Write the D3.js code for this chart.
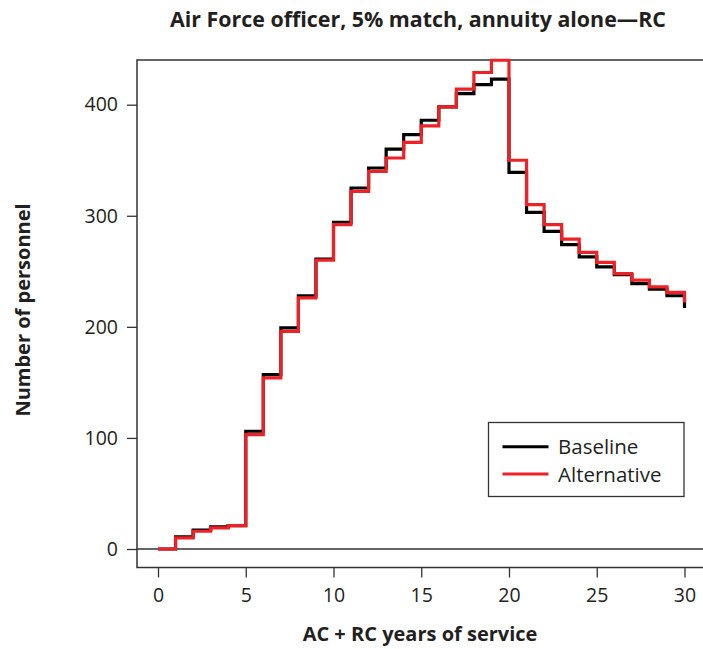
<!DOCTYPE html>
<html>
<head>
<meta charset="utf-8">
<script src="https://cdn.jsdelivr.net/npm/d3@7"></script>
<style>
  html, body { margin: 0; padding: 0; background: #fff; }
  svg { display: block; }
  text { font-family: "Open Sans", "Noto Sans", sans-serif; fill: #231f20; }
</style>
</head>
<body>
<script>
const years = d3.range(0, 31);
const baseline = [0, 11, 17, 20, 21, 106, 157, 199, 228, 261, 294, 325, 343, 360, 373, 386, 398, 410, 418, 423, 339, 303, 286, 274, 263, 254, 247, 239, 234, 228, 217];
const alternative = [0, 10, 16, 19, 21, 103, 154, 196, 226, 260, 292, 322, 340, 352, 366, 381, 398, 414, 429, 440, 350, 310, 292, 279, 267, 258, 248, 242, 236, 231, 222];
const xTicks = [0, 5, 10, 15, 20, 25, 30];
const yTicks = [0, 100, 200, 300, 400];
const seriesNames = ["Baseline", "Alternative"];
const seriesColors = ["#000000", "#ee2127"];

const W = 703, H = 649;
const box = { left: 137, right: 710, top: 60, bottom: 567.5 };

const x = d3.scaleLinear().domain([0, 30]).range([158, 684.5]);
const y = d3.scaleLinear().domain([0, 400]).range([549, 104.7]);

const svg = d3.select("body").append("svg").attr("width", W).attr("height", H);

// box
svg.append("rect")
  .attr("x", box.left).attr("y", box.top)
  .attr("width", box.right - box.left).attr("height", box.bottom - box.top)
  .attr("fill", "none").attr("stroke", "#333").attr("stroke-width", 1.5);

// zero reference line
svg.append("line")
  .attr("x1", box.left).attr("x2", box.right)
  .attr("y1", y(0)).attr("y2", y(0))
  .attr("stroke", "#333").attr("stroke-width", 1.3);

// series lines
const line = d3.line().x((d, i) => x(years[i])).y(d => y(d)).curve(d3.curveStepAfter);
[baseline, alternative].forEach((s, k) => {
  svg.append("path").datum(s)
    .attr("d", line)
    .attr("fill", "none")
    .attr("stroke", seriesColors[k])
    .attr("stroke-width", 3.2)
    .attr("stroke-linejoin", "miter")
    .attr("stroke-linecap", "butt");
});

// x axis
const xAxis = d3.axisBottom(x).tickValues(xTicks).tickSize(10).tickPadding(11).tickFormat(d3.format("d"));
const xg = svg.append("g").attr("transform", `translate(0,${box.bottom})`).call(xAxis);
xg.select(".domain").remove();
xg.selectAll(".tick line").attr("stroke", "#333").attr("stroke-width", 1.3);
xg.selectAll(".tick text").attr("font-size", 19.5).style("font-family", '"Open Sans", sans-serif').attr("fill", "#231f20");

// y axis
const yAxis = d3.axisLeft(y).tickValues(yTicks).tickSize(10).tickPadding(9).tickFormat(d3.format("d"));
const yg = svg.append("g").attr("transform", `translate(${box.left},0)`).call(yAxis);
yg.select(".domain").remove();
yg.selectAll(".tick line").attr("stroke", "#333").attr("stroke-width", 1.3);
yg.selectAll(".tick text").attr("font-size", 19.5).style("font-family", '"Open Sans", sans-serif').attr("fill", "#231f20");

// titles
svg.append("text").attr("x", 418).attr("y", 27).attr("text-anchor", "middle")
  .attr("font-size", 21.4).attr("font-weight", "bold")
  .text("Air Force officer, 5% match, annuity alone\u2014RC");
svg.append("text").attr("x", 420).attr("y", 641).attr("text-anchor", "middle")
  .attr("font-size", 20).attr("font-weight", "bold")
  .text("AC + RC years of service");
svg.append("text").attr("transform", "translate(30,310) rotate(-90)").attr("text-anchor", "middle")
  .attr("font-size", 20).attr("font-weight", "bold")
  .text("Number of personnel");

// legend
const lg = svg.append("g");
lg.append("rect").attr("x", 488.5).attr("y", 422.5).attr("width", 195.5).attr("height", 74)
  .attr("fill", "#fff").attr("stroke", "#333").attr("stroke-width", 1.3);
seriesNames.forEach((n, i) => {
  const yy = 446.7 + i * 27.3;
  lg.append("line").attr("x1", 502.5).attr("x2", 548.5).attr("y1", yy).attr("y2", yy)
    .attr("stroke", seriesColors[i]).attr("stroke-width", 3);
  lg.append("text").attr("x", 558).attr("y", yy + 7.5).attr("font-size", 20.5).text(n);
});
</script>
</body>
</html>
